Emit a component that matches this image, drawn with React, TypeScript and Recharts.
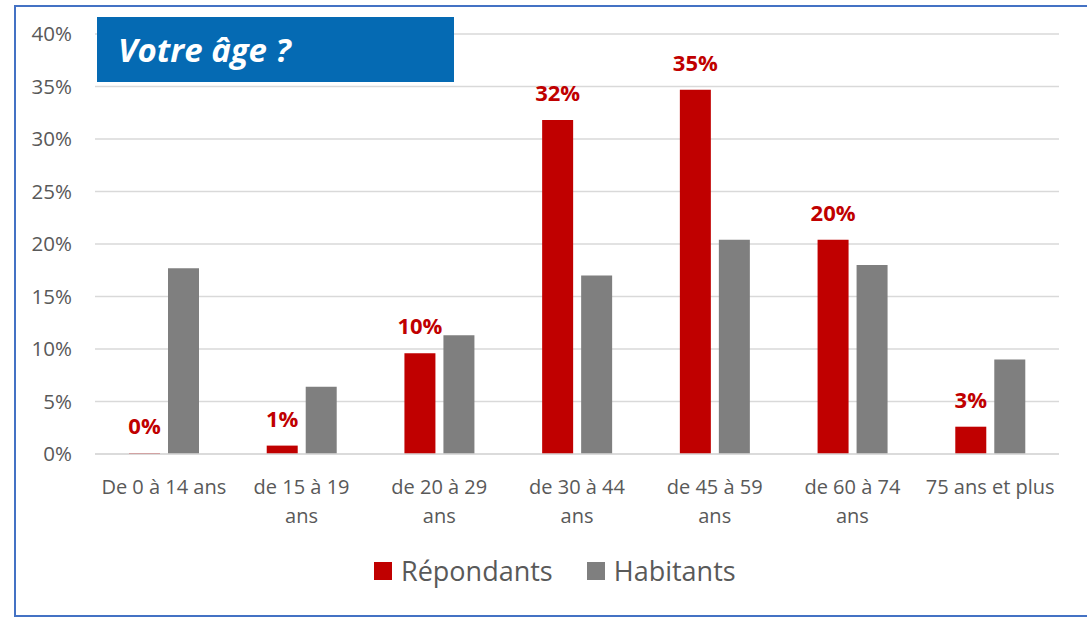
import { BarChart, Bar, XAxis, YAxis, CartesianGrid, LabelList, Legend } from 'recharts';

const categories = [
  'De 0 à 14 ans',
  'de 15 à 19\nans',
  'de 20 à 29\nans',
  'de 30 à 44\nans',
  'de 45 à 59\nans',
  'de 60 à 74\nans',
  '75 ans et plus',
];
const repondants = [0, 0.8, 9.6, 31.8, 34.7, 20.4, 2.6];
const habitants = [17.7, 6.4, 11.3, 17.0, 20.4, 18.0, 9.0];
const yTicks = [0, 5, 10, 15, 20, 25, 30, 35, 40];

const RED = '#C00000';
const GREY = '#7F7F7F';
const TEXT = '#595959';
const FONT = '"Open Sans", sans-serif';

const data = categories.map((c, i) => ({
  name: c,
  Répondants: repondants[i],
  Habitants: habitants[i],
}));

const CategoryTick = (props: any) => {
  const { x, y, payload } = props;
  const lines = String(payload.value).split('\n');
  return (
    <text x={x} y={y} textAnchor="middle" fill={TEXT} fontSize={20} fontFamily={FONT}>
      {lines.map((l, i) => (
        <tspan key={i} x={x} dy={i === 0 ? 32 : 29}>
          {l}
        </tspan>
      ))}
    </text>
  );
};

const ValueLabel = (props: any) => {
  const { x, y, width, value } = props;
  return (
    <text
      x={Number(x) + Number(width) / 2}
      y={Number(y) - 19}
      textAnchor="middle"
      fill={RED}
      fontSize={22}
      fontWeight="bold"
      fontFamily={FONT}
    >
      {`${Math.round(Number(value))}%`}
    </text>
  );
};

const LegendBox = () => (
  <div
    style={{
      height: 73,
      paddingTop: 9,
      paddingLeft: 374,
      display: 'flex',
      alignItems: 'flex-start',
      boxSizing: 'border-box',
      fontFamily: FONT,
      fontSize: 27,
      color: TEXT,
    }}
  >
    {[
      { label: 'Répondants', color: RED },
      { label: 'Habitants', color: GREY },
    ].map((it, i) => (
      <div key={it.label} style={{ display: 'flex', alignItems: 'center', height: 36, marginRight: i === 0 ? 34 : 0 }}>
        <span style={{ width: 18, height: 18, background: it.color, marginRight: 9, display: 'inline-block' }} />
        <span style={{ lineHeight: '36px' }}>{it.label}</span>
      </div>
    ))}
  </div>
);

export default function App() {
  return (
    <div
      style={{
        position: 'absolute',
        left: 0,
        top: 0,
        width: 1087,
        height: 617,
        overflow: 'hidden',
        background: '#fff',
      }}
    >
      <div
        style={{
          position: 'absolute',
          left: 14,
          top: 5,
          width: 1100,
          height: 608,
          border: '2px solid #4472C4',
        }}
      />
      <BarChart
        width={1087}
        height={617}
        data={data}
        margin={{ top: 34, right: 28, left: 0, bottom: 0 }}
        barGap={8}
        barSize={31}
      >
        <CartesianGrid vertical={false} stroke="#D9D9D9" strokeWidth={1.5} />
        <XAxis
          dataKey="name"
          height={90}
          axisLine={{ stroke: '#D9D9D9', strokeWidth: 1.5 }}
          tickLine={false}
          interval={0}
          tick={<CategoryTick />}
        />
        <YAxis
          width={95}
          domain={[0, 40]}
          ticks={yTicks}
          tickFormatter={(v: number) => `${v}%`}
          axisLine={false}
          tickLine={false}
          tickMargin={17}
          tick={{ fill: TEXT, fontSize: 20.5, fontFamily: FONT }}
        />
        <Legend verticalAlign="bottom" content={<LegendBox />} />
        <Bar dataKey="Répondants" fill={RED} minPointSize={1} isAnimationActive={false}>
          <LabelList dataKey="Répondants" content={<ValueLabel />} />
        </Bar>
        <Bar dataKey="Habitants" fill={GREY} isAnimationActive={false} />
      </BarChart>
      <div
        style={{
          position: 'absolute',
          left: 97,
          top: 17,
          width: 357,
          height: 65,
          background: '#056AB3',
          color: '#fff',
          fontFamily: FONT,
          fontWeight: 'bold',
          fontStyle: 'italic',
          fontSize: 33,
          display: 'flex',
          alignItems: 'center',
          paddingLeft: 21,
          boxSizing: 'border-box',
        }}
      >
        Votre âge ?
      </div>
    </div>
  );
}
